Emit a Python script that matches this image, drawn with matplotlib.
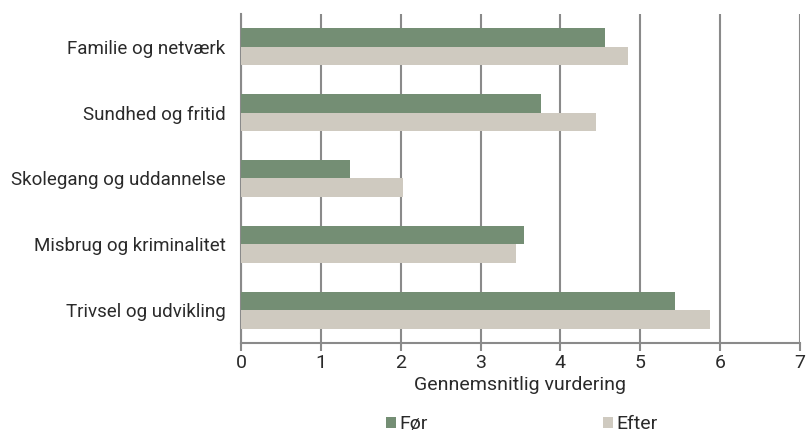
import numpy as np
import matplotlib
matplotlib.use("Agg")
from matplotlib import pyplot as plt

categories = ["Familie og netværk", "Sundhed og fritid", "Skolegang og uddannelse",
              "Misbrug og kriminalitet", "Trivsel og udvikling"]
foer = [4.56, 3.76, 1.36, 3.54, 5.43]
efter = [4.85, 4.45, 2.03, 3.44, 5.87]
series_labels = ["Før", "Efter"]
xticks = [0, 1, 2, 3, 4, 5, 6, 7]

green = "#748e74"
beige = "#cfcac0"
grey = "#8a8a8a"
ink = "#2a2a2a"

plt.rcParams["font.family"] = ["Roboto", "DejaVu Sans"]

fig = plt.figure(figsize=(8.07, 4.33), dpi=100)
ax = fig.add_axes([0.2986, 0.2079, 0.6927, 0.7598])

y = np.arange(len(categories))
h = 0.28
ax.barh(y - h / 2, foer, height=h, color=green, label=series_labels[0], zorder=3)
ax.barh(y + h / 2, efter, height=h, color=beige, label=series_labels[1], zorder=3)

ax.set_ylim(len(categories) - 0.5, -0.5)
ax.set_xlim(0, 7)
ax.set_xticks(xticks)
ax.set_yticks(y)
ax.set_yticklabels(categories, fontsize=13.5, color=ink)
ax.tick_params(axis="y", length=0, pad=11)
ax.tick_params(axis="x", length=6, width=1.5, color=grey, labelsize=14,
               labelcolor=ink, pad=2)

ax.grid(axis="x", color=grey, linewidth=1.5, zorder=0)
for side in ["top", "right"]:
    ax.spines[side].set_visible(False)
for side in ["left", "bottom"]:
    ax.spines[side].set_color(grey)
    ax.spines[side].set_linewidth(1.5)

ax.set_xlabel("Gennemsnitlig vurdering", fontsize=14, color=ink, labelpad=3)

fig.legend(loc="center", bbox_to_anchor=(0.647, 0.02), ncol=2, frameon=False,
           fontsize=14, handlelength=0.5, handleheight=0.5, handletextpad=0.2,
           columnspacing=9, labelcolor=ink, borderpad=0)

fig.savefig("out.png", dpi=100)
